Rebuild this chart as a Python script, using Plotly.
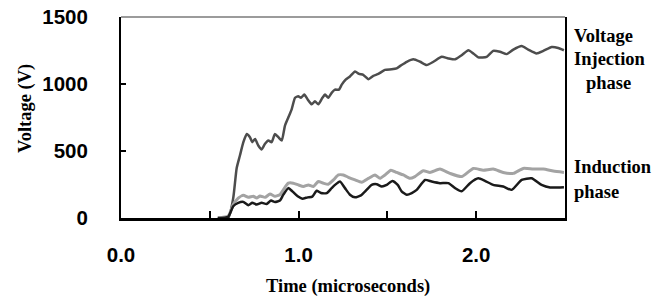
import plotly.graph_objects as go

# ---- data ----
inj_t = [0.545, 0.604, 0.632, 0.651, 0.670, 0.689, 0.708, 0.726, 0.739, 0.755, 0.773, 0.792, 0.811,
         0.830, 0.848, 0.867, 0.886, 0.905, 0.923, 0.942, 0.961, 0.980, 0.998, 1.013, 1.032, 1.051,
         1.074, 1.092, 1.111, 1.134, 1.149, 1.167, 1.186, 1.205, 1.227, 1.243, 1.265, 1.289, 1.318,
         1.340, 1.364, 1.393, 1.421, 1.449, 1.486, 1.524, 1.552, 1.580, 1.609, 1.646, 1.684, 1.721,
         1.759, 1.806, 1.843, 1.881, 1.918, 1.956, 1.984, 2.012, 2.059, 2.096, 2.134, 2.172, 2.209,
         2.256, 2.293, 2.340, 2.378, 2.425, 2.462, 2.494]
inj_v = [0, 0, 149, 370, 468, 566, 627, 603, 566, 590, 541, 512, 554,
         578, 566, 627, 603, 578, 688, 750, 811, 897, 909, 897, 921, 885,
         848, 872, 848, 897, 921, 897, 934, 958, 958, 995, 1032, 1056, 1093,
         1075, 1068, 1036, 1061, 1075, 1105, 1110, 1117, 1142, 1166, 1184, 1166, 1142,
         1166, 1203, 1191, 1184, 1215, 1252, 1228, 1199, 1203, 1247, 1240, 1223, 1257,
         1284, 1257, 1228, 1247, 1276, 1269, 1252]

ind_gray_t = [0.545, 0.604, 0.632, 0.660, 0.689, 0.717, 0.745, 0.764, 0.783, 0.811, 0.839, 0.867,
              0.895, 0.914, 0.942, 0.970, 0.998, 1.027, 1.055, 1.083, 1.111, 1.139, 1.167, 1.196,
              1.224, 1.252, 1.280, 1.318, 1.355, 1.393, 1.430, 1.458, 1.486, 1.520, 1.552, 1.590,
              1.627, 1.655, 1.702, 1.740, 1.796, 1.852, 1.918, 1.984, 2.040, 2.096, 2.152, 2.209,
              2.265, 2.321, 2.378, 2.434, 2.494]
ind_gray_v = [0, 15, 100, 149, 169, 154, 162, 149, 164, 154, 179, 162,
              174, 210, 260, 260, 247, 235, 247, 235, 272, 260, 252, 284,
              321, 321, 304, 284, 267, 296, 321, 296, 321, 357, 340, 321,
              296, 309, 353, 340, 365, 333, 309, 370, 357, 365, 340, 333,
              370, 365, 365, 350, 340]

ind_black_t = [0.545, 0.604, 0.632, 0.660, 0.689, 0.717, 0.739, 0.764, 0.792, 0.820, 0.845, 0.867,
               0.895, 0.914, 0.942, 0.965, 0.995, 1.021, 1.051, 1.077, 1.102, 1.126, 1.158, 1.186,
               1.205, 1.233, 1.261, 1.289, 1.318, 1.351, 1.383, 1.411, 1.440, 1.468, 1.496, 1.528,
               1.558, 1.580, 1.609, 1.637, 1.665, 1.712, 1.749, 1.796, 1.843, 1.881, 1.918, 1.965,
               2.012, 2.049, 2.096, 2.152, 2.200, 2.256, 2.312, 2.368, 2.416, 2.494]
ind_black_v = [0, 10, 88, 113, 120, 96, 113, 100, 113, 105, 130, 120,
               130, 174, 223, 199, 162, 144, 154, 159, 203, 186, 186, 223,
               247, 272, 223, 174, 154, 169, 210, 247, 252, 235, 247, 277,
               247, 199, 174, 186, 210, 284, 272, 260, 260, 223, 199, 260,
               296, 277, 247, 235, 210, 284, 296, 247, 228, 230]

x_tickvals = [0.0, 0.5, 1.0, 1.5, 2.0, 2.5]
x_ticktext = ["0.0", "", "1.0", "", "2.0", ""]
y_tickvals = [0, 500, 1000, 1500]
y_ticktext = ["0", "500", "1000", "1500"]

# ---- figure ----
fig = go.Figure()
fig.add_trace(go.Scatter(x=inj_t, y=inj_v, mode="lines", name="Voltage Injection phase",
                         line=dict(color="#4d4d4d", width=2.5, shape="spline", smoothing=0.5)))
fig.add_trace(go.Scatter(x=ind_gray_t, y=ind_gray_v, mode="lines", name="Induction phase (gray)",
                         line=dict(color="#a3a3a3", width=3, shape="spline", smoothing=0.5)))
fig.add_trace(go.Scatter(x=ind_black_t, y=ind_black_v, mode="lines", name="Induction phase",
                         line=dict(color="#1a1a1a", width=2.5, shape="spline", smoothing=0.5)))

L, R, T, B = 121, 106, 17, 81
W, H = 671, 299
pw, ph = W - L - R, H - T - B

def px_x(px):
    return (px - L) / pw

def px_y(py):
    return (H - B - py) / ph

tick_font = dict(family="Liberation Sans, Arial, sans-serif", size=20.5, color="black", weight="bold")
serif = dict(family="Liberation Serif, Times New Roman, serif", size=18.5, color="black", weight="bold")

fig.update_layout(
    width=W, height=H,
    margin=dict(l=L, r=R, t=T, b=B, autoexpand=False),
    paper_bgcolor="white", plot_bgcolor="white",
    showlegend=False,
    xaxis=dict(range=[0, 2.5], tickvals=x_tickvals, ticktext=x_ticktext,
               ticks="inside", ticklen=7, tickwidth=2, tickcolor="black",
               showline=True, linecolor="black", linewidth=3, mirror=False,
               showgrid=False, zeroline=False, tickfont=tick_font, ticklabelstandoff=16),
    yaxis=dict(range=[0, 1500], tickvals=y_tickvals, ticktext=y_ticktext,
               ticks="inside", ticklen=5, tickwidth=2, tickcolor="black",
               showline=True, linecolor="black", linewidth=2, mirror=True,
               showgrid=False, zeroline=False, tickfont=tick_font, ticklabelstandoff=27),
    shapes=[dict(type="line", xref="paper", yref="paper", x0=0, x1=1, y0=1, y1=1,
                 line=dict(color="#7a7a7a", width=1.5))],
)

annotations = [
    dict(text="Voltage (V)", x=px_x(25), y=px_y(109), textangle=-90),
    dict(text="Time (microseconds)", x=px_x(348), y=px_y(286)),
    dict(text="Voltage", x=px_x(572), y=px_y(36), xanchor="left"),
    dict(text="Injection", x=px_x(572), y=px_y(59), xanchor="left"),
    dict(text="phase", x=px_x(584), y=px_y(83), xanchor="left"),
    dict(text="Induction", x=px_x(572), y=px_y(167), xanchor="left"),
    dict(text="phase", x=px_x(572), y=px_y(192), xanchor="left"),
]
for a in annotations:
    a.setdefault("xanchor", "center")
    fig.add_annotation(xref="paper", yref="paper", showarrow=False, yanchor="middle",
                       font=serif, **a)

fig.write_html("out.html", config={"displayModeBar": False},
               post_script="document.body.style.margin='0';")
